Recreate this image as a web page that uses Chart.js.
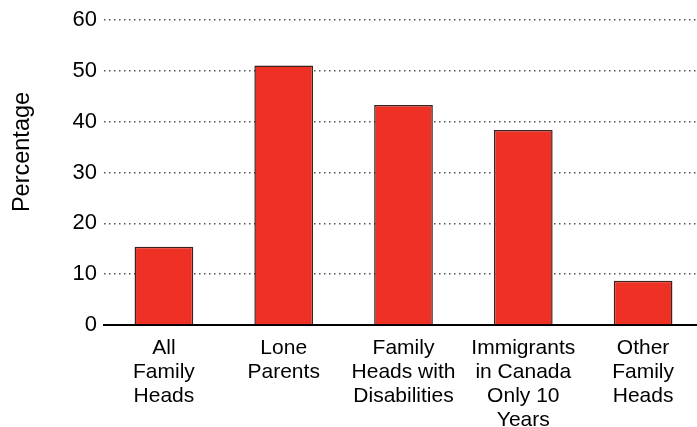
<!DOCTYPE html>
<html lang="en">
<head>
    <meta charset="UTF-8">
    <title>Family heads bar chart</title>
    <script src="https://cdn.jsdelivr.net/npm/chart.js"></script>
    <style>
        html, body { margin: 0; padding: 0; background: #fff; overflow: hidden; }
        .container { width: 703px; height: 427px; }
    </style>
</head>
<body>

<div class="container">
    <canvas id="myChart"></canvas>
</div>

<script>
    const categories = [
        ['All', 'Family', 'Heads'],
        ['Lone', 'Parents'],
        ['Family', 'Heads with', 'Disabilities'],
        ['Immigrants', 'in Canada', 'Only 10', 'Years'],
        ['Other', 'Family', 'Heads']
    ];
    const percentages = [15.4, 51.1, 43.3, 38.4, 8.7];
    const yTicks = [0, 10, 20, 30, 40, 50, 60];
    const yTitle = 'Percentage';

    const font = "'Liberation Sans', Arial, sans-serif";

    // axis title sits a bit above the middle of the plot in the original
    const yTitlePlugin = {
        id: 'yTitle',
        afterDraw(chart) {
            const c = chart.ctx;
            c.save();
            c.translate(23, 152);
            c.rotate(-Math.PI / 2);
            c.font = '23.5px ' + font;
            c.fillStyle = '#000';
            c.textAlign = 'center';
            c.textBaseline = 'middle';
            c.fillText(yTitle, 0, 0);
            c.restore();
        }
    };

    const ctx = document.getElementById('myChart').getContext('2d');
    const myChart = new Chart(ctx, {
        type: 'bar',
        data: {
            labels: categories,
            datasets: [{
                label: yTitle,
                data: percentages,
                backgroundColor: '#ee3124',
                borderColor: '#3b2420',
                borderWidth: 1.5,
                borderSkipped: 'bottom',
                categoryPercentage: 1,
                barPercentage: 0.49
            }]
        },
        options: {
            responsive: true,
            maintainAspectRatio: false,
            animation: false,
            layout: { padding: { top: 8, right: 0, left: 0, bottom: 0 } },
            plugins: {
                legend: { display: false },
                tooltip: { enabled: false }
            },
            scales: {
                x: {
                    grid: { display: false },
                    border: { display: true, color: '#000', width: 2 },
                    ticks: {
                        color: '#000',
                        padding: 3,
                        maxRotation: 0,
                        autoSkip: false,
                        font: { family: font, size: 21, lineHeight: 1.143 }
                    },
                    afterFit: (scale) => { scale.height = 102; }
                },
                y: {
                    min: 0,
                    max: 60,
                    afterBuildTicks: (scale) => {
                        scale.ticks = yTicks.map(v => ({ value: v }));
                    },
                    grid: {
                        drawTicks: false,
                        lineWidth: 1.5,
                        color: (c) => c.tick && c.tick.value === 0 ? 'rgba(0,0,0,0)' : '#555'
                    },
                    border: { display: false, dash: [1.5, 3.5] },
                    ticks: {
                        color: '#000',
                        padding: 7,
                        font: { family: font, size: 22 }
                    },
                    afterFit: (scale) => { scale.width = 104; }
                }
            }
        },
        plugins: [yTitlePlugin]
    });
</script>

</body>
</html>
